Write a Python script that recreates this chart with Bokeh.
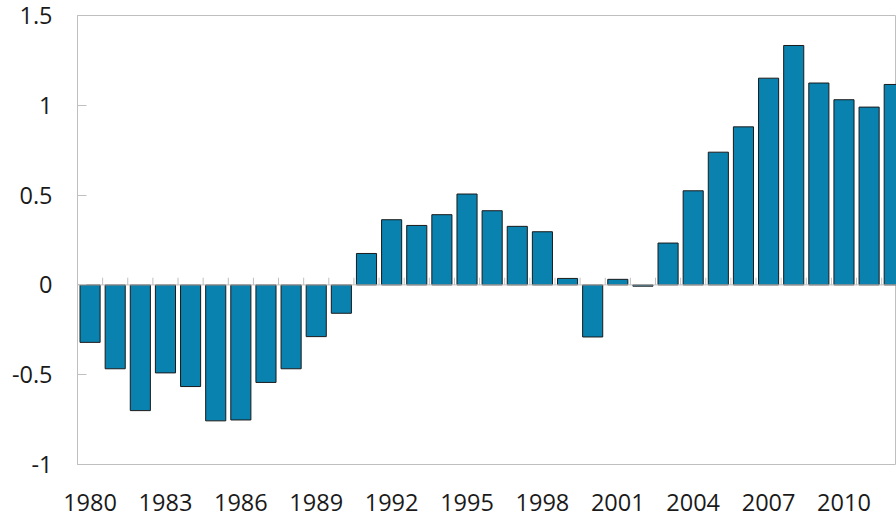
from bokeh.plotting import figure
from bokeh.models import Range1d, FixedTicker, Span, ColumnDataSource
from bokeh.embed import file_html
from bokeh.resources import INLINE

years = list(range(1980, 2013))
values = [-0.32, -0.467, -0.70, -0.49, -0.566, -0.757, -0.752, -0.543, -0.467, -0.288,
          -0.158, 0.175, 0.363, 0.331, 0.391, 0.506, 0.413, 0.326, 0.296, 0.036,
          -0.29, 0.031, -0.007, 0.233, 0.524, 0.739, 0.88, 1.151, 1.333, 1.124,
          1.031, 0.99, 1.116]
x_ticks = list(range(1980, 2011, 3))
y_ticks = [-1, -0.5, 0, 0.5, 1, 1.5]
y_tick_labels = ["-1", "-0.5", "0", "0.5", "1", "1.5"]

FONT = "Open Sans"
GRAY = "#bfbfbf"

p = figure(width=896, height=516, output_backend="svg", toolbar_location=None,
           x_range=Range1d(1979.5, 2012.09), y_range=Range1d(-1, 1.5),
           min_border_left=77, min_border_top=15, min_border_right=0,
           min_border_bottom=52)
p.grid.visible = False
p.outline_line_color = GRAY
p.outline_line_width = 1
p.background_fill_color = "white"
p.border_fill_color = "white"

# small category ticks along the zero line, between bars
bounds = [y + 0.5 for y in years]
p.segment(x0=bounds, y0=[0] * len(bounds), x1=bounds, y1=[0.04] * len(bounds),
          line_color=GRAY, line_width=1)

src = ColumnDataSource(dict(x=years, top=values))
p.vbar(x="x", top="top", bottom=0, width=0.8, source=src,
       fill_color="#0a82af", line_color="#1a1a1a", line_width=1)

p.add_layout(Span(location=0, dimension="width", line_color=GRAY, line_width=1))

xa = p.xaxis[0]
xa.ticker = FixedTicker(ticks=x_ticks)
xa.axis_line_color = None
xa.major_tick_line_color = None
xa.minor_tick_line_color = None
xa.major_label_standoff = 23
xa.major_label_text_font = FONT
xa.major_label_text_font_size = "23.5px"
xa.major_label_text_color = "#1a1a1a"

ya = p.yaxis[0]
ya.ticker = FixedTicker(ticks=y_ticks)
ya.major_label_overrides = {t: l for t, l in zip(y_ticks, y_tick_labels)}
ya.axis_line_color = GRAY
ya.major_tick_line_color = GRAY
ya.major_tick_in = 9
ya.major_tick_out = 0
ya.minor_tick_line_color = None
ya.major_label_standoff = 25
ya.major_label_text_font = FONT
ya.major_label_text_font_size = "23.5px"
ya.major_label_text_color = "#1a1a1a"

open("out.html", "w").write(file_html(p, INLINE))
